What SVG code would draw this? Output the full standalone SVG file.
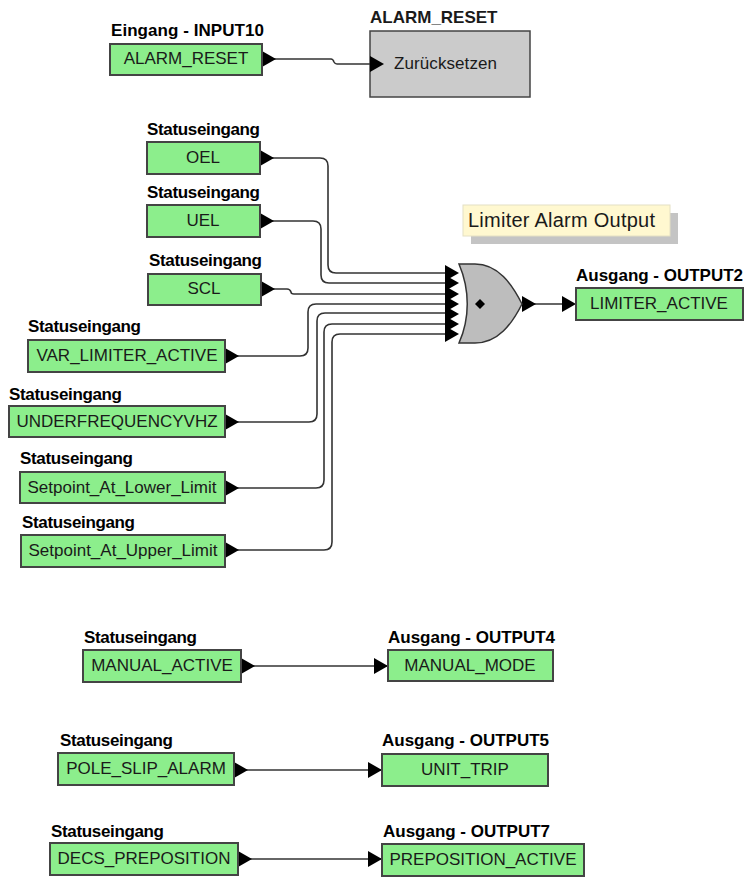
<svg xmlns="http://www.w3.org/2000/svg" width="744" height="878" viewBox="0 0 744 878">
<style>
text{font-family:"Liberation Sans",Arial,sans-serif;fill:#1a1a1a}
.n rect{fill:#8cee8c;stroke:#444;stroke-width:2}
.n text.v{font-size:17px;text-anchor:middle}
.n text.l{font-size:17px;font-weight:bold;fill:#000}
.w path{fill:none;stroke:#333;stroke-width:1.6}
.w polygon,.a{fill:#000}
</style>
<defs><polygon id="h" points="0,-8 14,0 0,8"/></defs>
<g id="alarm-block"><rect x="370" y="31" width="160" height="66" fill="#cbcbcb" stroke="#444" stroke-width="1.5"/><text x="370" y="23" font-size="17" font-weight="bold" fill="#000">ALARM_RESET</text><text x="394" y="69" font-size="17" textLength="103">Zurücksetzen</text></g>
<g id="note"><rect x="471" y="213" width="207" height="31" fill="#c4c4c4"/><rect x="463" y="205" width="207" height="31" fill="#fff8d0" stroke="#e4e0c4"/><text x="468" y="227" font-size="20" textLength="187">Limiter Alarm Output</text></g>
<g class="w" id="connectors">
<path d="M262 59H331Q333 59 334 62Q335 64 337 64H372"/>
<path d="M260 158H320Q328 158 328 166V265Q328 273 336 273H447"/>
<path d="M260 221H313Q321 221 321 229V275Q321 283 329 283H447"/>
<path d="M261 289H287Q290 289 291 292Q291 294 294 294H447"/>
<path d="M225 356H300Q308 356 308 348V312Q308 304 316 304H447"/>
<path d="M225 422H309Q317 422 317 414V321Q317 313 325 313H447"/>
<path d="M225 488H316Q324 488 324 480V332Q324 324 332 324H447"/>
<path d="M225 550H324Q332 550 332 542V342Q332 334 340 334H447"/>
<path d="M522 304H564"/>
<path d="M241 666H390"/>
<path d="M234 770H384"/>
<path d="M238 859H384"/>
<use href="#h" x="370" y="64"/><use href="#h" x="445" y="273"/><use href="#h" x="445" y="283"/><use href="#h" x="445" y="294"/><use href="#h" x="445" y="304"/><use href="#h" x="445" y="314"/><use href="#h" x="445" y="324"/><use href="#h" x="445" y="334"/>
<use href="#h" x="562" y="304"/><use href="#h" x="374" y="666"/><use href="#h" x="368" y="770"/><use href="#h" x="368" y="859"/>
<use href="#h" x="262" y="59"/><use href="#h" x="260" y="158"/><use href="#h" x="260" y="221"/><use href="#h" x="261" y="289"/><use href="#h" x="225" y="356"/><use href="#h" x="225" y="422"/><use href="#h" x="225" y="488"/><use href="#h" x="225" y="550"/><use href="#h" x="241" y="666"/><use href="#h" x="234" y="770"/><use href="#h" x="238" y="859"/><use href="#h" x="522" y="304"/>
</g>
<g id="or-gate"><path d="M459 264H475C498 264 512 284 522 304C512 324 498 343 475 343H459C470 318 470 290 459 264Z" fill="#bdbdbd" stroke="#333" stroke-width="1.5"/><polygon class="a" points="480,299 485,304 480,309 475,304"/></g>
<g class="n" id="input10"><rect x="110" y="44" width="152" height="31"/><text class="v" x="186" y="64">ALARM_RESET</text><text class="l" x="111" y="36" textLength="153">Eingang - INPUT10</text></g>
<g class="n" id="oel"><rect x="147" y="142" width="113" height="32"/><text class="v" x="203" y="163">OEL</text><text class="l" x="147" y="135" textLength="113">Statuseingang</text></g>
<g class="n" id="uel"><rect x="147" y="205" width="113" height="32"/><text class="v" x="203" y="226">UEL</text><text class="l" x="147" y="198" textLength="113">Statuseingang</text></g>
<g class="n" id="scl"><rect x="148" y="274" width="113" height="31"/><text class="v" x="204" y="294">SCL</text><text class="l" x="149" y="266" textLength="113">Statuseingang</text></g>
<g class="n" id="var"><rect x="28" y="340" width="197" height="32"/><text class="v" x="127" y="361">VAR_LIMITER_ACTIVE</text><text class="l" x="28" y="332" textLength="113">Statuseingang</text></g>
<g class="n" id="under"><rect x="9" y="406" width="216" height="31"/><text class="v" x="117" y="427">UNDERFREQUENCYVHZ</text><text class="l" x="9" y="400" textLength="113">Statuseingang</text></g>
<g class="n" id="lower"><rect x="20" y="472" width="205" height="31"/><text class="v" x="122" y="493">Setpoint_At_Lower_Limit</text><text class="l" x="20" y="464" textLength="113">Statuseingang</text></g>
<g class="n" id="upper"><rect x="21" y="535" width="204" height="32"/><text class="v" x="123" y="556">Setpoint_At_Upper_Limit</text><text class="l" x="22" y="528" textLength="113">Statuseingang</text></g>
<g class="n" id="limiter"><rect x="576" y="288" width="167" height="32"/><text class="v" x="659" y="309">LIMITER_ACTIVE</text><text class="l" x="576" y="281" textLength="167">Ausgang - OUTPUT2</text></g>
<g class="n" id="manual"><rect x="83" y="650" width="158" height="32"/><text class="v" x="162" y="671">MANUAL_ACTIVE</text><text class="l" x="84" y="643" textLength="113">Statuseingang</text></g>
<g class="n" id="mode"><rect x="388" y="650" width="165" height="31"/><text class="v" x="470" y="671">MANUAL_MODE</text><text class="l" x="388" y="643" textLength="167">Ausgang - OUTPUT4</text></g>
<g class="n" id="pole"><rect x="58" y="753" width="176" height="32"/><text class="v" x="146" y="774">POLE_SLIP_ALARM</text><text class="l" x="60" y="746" textLength="113">Statuseingang</text></g>
<g class="n" id="trip"><rect x="382" y="754" width="166" height="32"/><text class="v" x="465" y="775">UNIT_TRIP</text><text class="l" x="382" y="746" textLength="167">Ausgang - OUTPUT5</text></g>
<g class="n" id="decs"><rect x="50" y="843" width="188" height="32"/><text class="v" x="144" y="864">DECS_PREPOSITION</text><text class="l" x="51" y="837" textLength="113">Statuseingang</text></g>
<g class="n" id="prep"><rect x="382" y="844" width="202" height="32"/><text class="v" x="483" y="865">PREPOSITION_ACTIVE</text><text class="l" x="383" y="837" textLength="167">Ausgang - OUTPUT7</text></g>
</svg>
